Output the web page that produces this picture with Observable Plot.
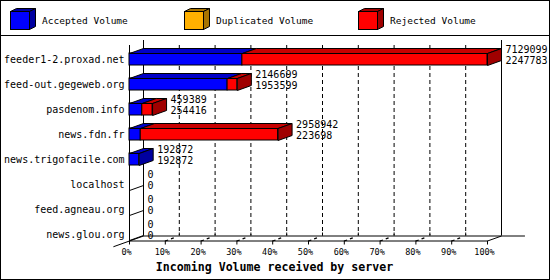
<!DOCTYPE html>
<html><head><meta charset="utf-8">
<script src="https://cdn.jsdelivr.net/npm/d3@7"></script>
<script src="https://cdn.jsdelivr.net/npm/@observablehq/plot@0.6"></script>
<style>
html,body{margin:0;padding:0;background:#fff;overflow:hidden}
#wrap{position:relative;width:550px;height:280px;box-sizing:border-box;border:1px solid #000;background:#fff;overflow:hidden}
#legend{position:absolute;left:-1px;top:-1px}
#chart{position:absolute;left:0;top:35px}
</style></head><body>
<div id="wrap"><svg id="legend" width="550" height="36"></svg><div id="chart"></div></div>
<script>
// ---- data ----
const servers = ["feeder1-2.proxad.net", "feed-out.gegeweb.org", "pasdenom.info", "news.fdn.fr",
  "news.trigofacile.com", "localhost", "feed.agneau.org", "news.glou.org"];
const totalVolume      = [7129099, 2146699, 459389, 2958942, 192872, 0, 0, 0];
const acceptedVolume   = [2247783, 1953599, 254416, 223698, 192872, 0, 0, 0];
const duplicatedVolume = [0, 0, 0, 0, 0, 0, 0, 0];
const rejectedVolume   = [4881316, 193100, 204973, 2735244, 0, 0, 0, 0];
const seriesNames = ["Accepted Volume", "Duplicated Volume", "Rejected Volume"];
const percentTicks = [0, 10, 20, 30, 40, 50, 60, 70, 80, 90, 100];
const axisTitle = "Incoming Volume received by server";

// ---- style ----
const frontColors = ["#0000ff", "#ffb000", "#ff0000"];
const topColors   = ["#0000c8", "#c88c00", "#c80000"];
const sideColors  = ["#0000a0", "#a87400", "#a00000"];
const FONT = "'DejaVu Sans Mono','Liberation Mono',monospace";
const DX = 14 / 3.58;   // depth offset, in % units
const DY = 0.2;         // depth offset, in row units
const HALF = 0.24;      // half bar thickness, in row units
const FRONT_TOP = -0.56, FRONT_FLOOR = 7.26;
const BACK_TOP = FRONT_TOP - DY, BACK_FLOOR = FRONT_FLOOR - DY;

const maxTotal = d3.max(totalVolume);
const pct = v => v / maxTotal * 100;

// ---- build faces ----
const fronts = [], tops = [[], [], []], sides = [[], [], []], zeroRows = [];
servers.forEach((s, i) => {
  const vals = [acceptedVolume[i], duplicatedVolume[i], rejectedVolume[i]];
  const segs = [];
  let start = 0;
  vals.forEach((v, k) => {
    if (v > 0) { segs.push({k, x1: pct(start), x2: pct(start + v)}); start += v; }
  });
  if (!segs.length) { zeroRows.push(i); return; }
  const y0 = i - HALF, y1 = i + HALF;
  segs.forEach((g, j) => {
    fronts.push({x1: g.x1, x2: g.x2, y1: y0, y2: y1, fill: frontColors[g.k]});
    const id = `t${i}_${j}`;
    [[g.x1, y0], [g.x2, y0], [g.x2 + DX, y0 - DY], [g.x1 + DX, y0 - DY], [g.x1, y0]]
      .forEach(([x, y]) => tops[g.k].push({id, x, y}));
  });
  const last = segs[segs.length - 1];
  const sid = `s${i}`;
  [[last.x2, y0], [last.x2 + DX, y0 - DY], [last.x2 + DX, y1 - DY], [last.x2, y1], [last.x2, y0]]
    .forEach(([x, y]) => sides[last.k].push({id: sid, x, y}));
});

const inner = percentTicks.filter(t => t > 0 && t < 100);

const faceMarks = [];
for (let k = 0; k < 3; k++) {
  faceMarks.push(Plot.line(tops[k], {x: "x", y: "y", z: "id", fill: topColors[k], stroke: "black", strokeWidth: 1, curve: "linear"}));
}
for (let k = 0; k < 3; k++) {
  faceMarks.push(Plot.line(sides[k], {x: "x", y: "y", z: "id", fill: sideColors[k], stroke: "black", strokeWidth: 1, curve: "linear"}));
}

const chart = Plot.plot({
  width: 548, height: 243,
  marginLeft: 0, marginRight: 2, marginTop: 0, marginBottom: 38.5,
  style: {fontFamily: FONT, fontSize: "10px", background: "transparent", color: "black"},
  x: {domain: [0, 100], range: [128, 486]},
  y: {domain: [-0.5, 7.5], range: [10.5, 210.5], axis: null},
  color: {type: "identity"},
  marks: [
    // back wall & grid
    Plot.ruleX(inner, {x: d => d + DX, y1: BACK_TOP + 0.2, y2: BACK_FLOOR, stroke: "black", strokeDasharray: "4,3"}),
    Plot.ruleX([0, 100], {x: d => d + DX, y1: BACK_TOP, y2: BACK_FLOOR, stroke: "black"}),
    Plot.ruleY([BACK_FLOOR], {x1: DX, x2: 110.6, stroke: "black"}),
    // floor
    Plot.ruleY([FRONT_FLOOR], {x1: 0, x2: 100, stroke: "black"}),
    Plot.link([100], {x1: d => d, y1: FRONT_FLOOR, x2: d => d + DX, y2: BACK_FLOOR, stroke: "black"}),
    Plot.link([0], {x1: d => d - 1.15 * DX, y1: FRONT_FLOOR + 1.15 * DY, x2: d => d + DX, y2: BACK_FLOOR, stroke: "black"}),
    Plot.ruleX(inner, {x: d => d + DX, y1: BACK_FLOOR, y2: BACK_FLOOR - 0.12, stroke: "black"}),
    Plot.link(inner, {x1: d => d, y1: FRONT_FLOOR, x2: d => d + DX, y2: BACK_FLOOR, stroke: "black", strokeWidth: 1.3, strokeDasharray: "3,3,3,12"}),
    Plot.ruleX(percentTicks, {x: d => d, y1: FRONT_FLOOR, y2: FRONT_FLOOR + 0.16, stroke: "black"}),
    // left wall front axis
    Plot.ruleX([0], {y1: FRONT_TOP, y2: FRONT_FLOOR, stroke: "black"}),
    // zero rows
    Plot.link(zeroRows, {x1: 0, y1: d => d + HALF, x2: DX, y2: d => d + HALF - DY, stroke: "black"}),
    // bars
    Plot.rect(fronts, {x1: "x1", x2: "x2", y1: "y1", y2: "y2", fill: "fill", stroke: "black", strokeWidth: 1}),
    ...faceMarks,
    // category labels
    Plot.text(servers, {x: 0, y: (d, i) => i, text: d => d, dx: -5, textAnchor: "end", fontSize: 10}),
    // value labels
    Plot.text(servers, {x: (d, i) => pct(totalVolume[i]) + DX, y: (d, i) => i - 0.4, text: (d, i) => String(totalVolume[i]), dx: 4, textAnchor: "start", fontSize: 10}),
    Plot.text(servers, {x: (d, i) => pct(totalVolume[i]) + DX, y: (d, i) => i + 0.06, text: (d, i) => String(acceptedVolume[i]), dx: 4, textAnchor: "start", fontSize: 10}),
    // x axis labels
    Plot.axisX({ticks: percentTicks, tickFormat: d => d + "%", tickSize: 0, tickPadding: 7.5, dx: -3, fontSize: 8.5, label: null}),
    Plot.text([axisTitle], {frameAnchor: "bottom", dy: 26.5, text: d => d, fontWeight: "bold", fontSize: 11.6, lineAnchor: "middle"})
  ]
});
document.getElementById("chart").appendChild(chart);

// ---- legend ----
const lg = d3.select("#legend");
lg.append("line").attr("x1", 0).attr("x2", 550).attr("y1", 35.5).attr("y2", 35.5).attr("stroke", "black");
const legendX = [10, 184, 358];
seriesNames.forEach((name, k) => {
  const x = legendX[k] + 0.5, y = 11.5, w = 19, h = 18, dx = 6, dy = 3;
  const g = lg.append("g");
  g.append("polygon").attr("points", `${x},${y} ${x + dx},${y - dy} ${x + w + dx},${y - dy} ${x + w},${y}`)
    .attr("fill", sideColors[k]).attr("stroke", "black");
  g.append("polygon").attr("points", `${x + w},${y} ${x + w + dx},${y - dy} ${x + w + dx},${y + h - dy} ${x + w},${y + h}`)
    .attr("fill", sideColors[k]).attr("stroke", "black");
  g.append("rect").attr("x", x).attr("y", y).attr("width", w).attr("height", h)
    .attr("fill", frontColors[k]).attr("stroke", "black");
  g.append("text").attr("x", legendX[k] + 32).attr("y", 20).attr("dominant-baseline", "central")
    .attr("font-family", "DejaVu Sans Mono, Liberation Mono, monospace").attr("font-size", "9.5px")
    .text(name);
});
</script>
</body></html>
